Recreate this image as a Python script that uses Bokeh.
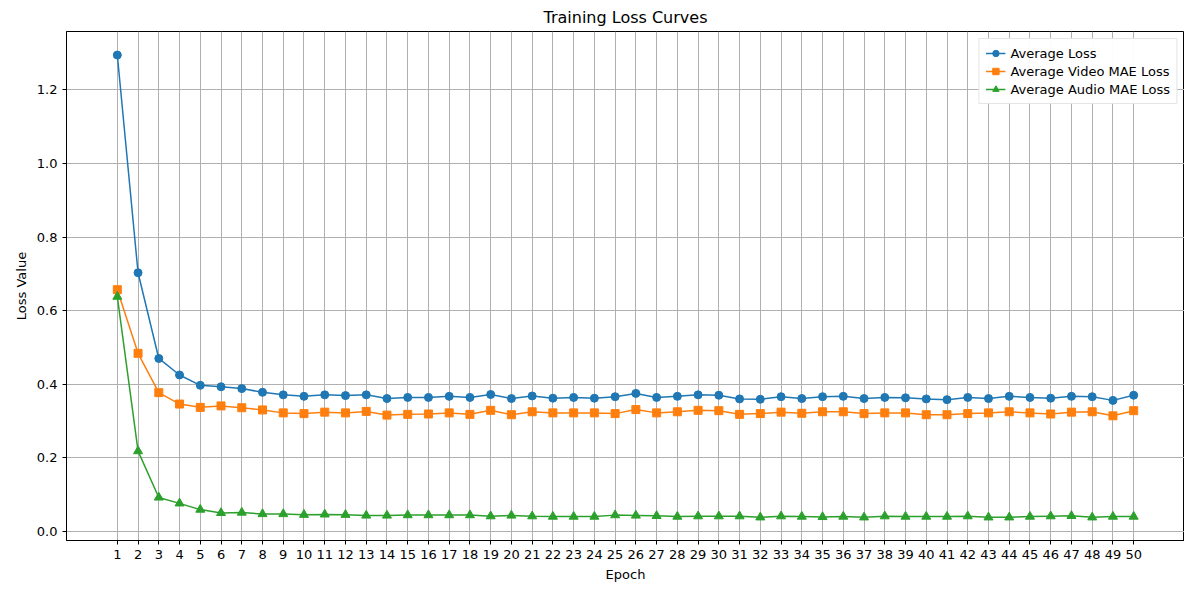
from bokeh.plotting import figure
from bokeh.models import Range1d, FixedTicker, Legend, LegendItem, CustomJSTickFormatter
from bokeh.embed import file_html
from bokeh.resources import INLINE

epochs = list(range(1, 51))
avg_loss = [1.295, 0.703, 0.47, 0.425, 0.397, 0.393, 0.388, 0.378, 0.371, 0.367, 0.371, 0.369, 0.371, 0.361, 0.364, 0.364, 0.367, 0.364, 0.372, 0.361, 0.368, 0.362, 0.364, 0.362, 0.366, 0.375, 0.364, 0.367, 0.371, 0.370, 0.360, 0.359, 0.366, 0.361, 0.366, 0.367, 0.361, 0.364, 0.363, 0.360, 0.358, 0.364, 0.361, 0.367, 0.364, 0.362, 0.367, 0.366, 0.356, 0.370]
video_loss = [0.657, 0.484, 0.377, 0.346, 0.337, 0.341, 0.336, 0.330, 0.322, 0.320, 0.324, 0.322, 0.326, 0.316, 0.318, 0.319, 0.322, 0.318, 0.329, 0.317, 0.325, 0.322, 0.322, 0.322, 0.320, 0.331, 0.322, 0.325, 0.329, 0.328, 0.318, 0.320, 0.324, 0.321, 0.325, 0.325, 0.320, 0.322, 0.322, 0.317, 0.317, 0.320, 0.322, 0.325, 0.322, 0.319, 0.324, 0.325, 0.314, 0.328]
audio_loss = [0.638, 0.218, 0.092, 0.076, 0.059, 0.050, 0.051, 0.047, 0.047, 0.045, 0.046, 0.045, 0.043, 0.043, 0.044, 0.044, 0.044, 0.044, 0.041, 0.043, 0.041, 0.040, 0.040, 0.040, 0.044, 0.043, 0.042, 0.040, 0.041, 0.041, 0.041, 0.038, 0.041, 0.040, 0.039, 0.040, 0.038, 0.041, 0.040, 0.040, 0.040, 0.041, 0.038, 0.038, 0.040, 0.041, 0.042, 0.038, 0.040, 0.040]
y_ticks = [0.0, 0.2, 0.4, 0.6, 0.8, 1.0, 1.2]

p = figure(width=1184, height=584, output_backend="svg", toolbar_location=None,
           x_range=Range1d(-1.45, 52.45), y_range=Range1d(-0.025, 1.359),
           min_border_left=66, min_border_right=0, min_border_top=15, min_border_bottom=43,
           title="Training Loss Curves")
p.title.align = "center"
p.title.text_font = "DejaVu Sans"
p.title.text_font_size = "16px"
p.title.text_font_style = "normal"
p.title.text_color = "black"
p.xaxis.ticker = FixedTicker(ticks=epochs)
p.yaxis.ticker = FixedTicker(ticks=y_ticks)
p.yaxis.formatter = CustomJSTickFormatter(code="return tick.toFixed(1);")
p.xaxis.axis_label = "Epoch"
p.yaxis.axis_label = "Loss Value"
for ax in (p.xaxis[0], p.yaxis[0]):
    ax.axis_label_text_font = "DejaVu Sans"
    ax.axis_label_text_font_style = "normal"
    ax.axis_label_text_font_size = "13px"
    ax.axis_label_text_color = "black"
    ax.major_label_text_font = "DejaVu Sans"
    ax.major_label_text_font_size = "13px"
    ax.major_label_text_color = "black"
    ax.minor_tick_line_color = None
    ax.major_tick_out = 4
    ax.major_tick_in = 0
    ax.axis_line_color = "black"
    ax.major_tick_line_color = "black"
p.xgrid.grid_line_color = "#b0b0b0"
p.ygrid.grid_line_color = "#b0b0b0"
p.outline_line_color = "black"

colors = ["#1f77b4", "#ff7f0e", "#2ca02c"]
l1 = p.line(epochs, avg_loss, color=colors[0], line_width=1.5)
m1 = p.scatter(epochs, avg_loss, color=colors[0], size=8, marker="circle")
l2 = p.line(epochs, video_loss, color=colors[1], line_width=1.5)
m2 = p.scatter(epochs, video_loss, color=colors[1], size=8, marker="square")
l3 = p.line(epochs, audio_loss, color=colors[2], line_width=1.5)
m3 = p.scatter(epochs, audio_loss, color=colors[2], size=9, marker="triangle")

legend = Legend(items=[LegendItem(label="Average Loss", renderers=[l1, m1]),
                       LegendItem(label="Average Video MAE Loss", renderers=[l2, m2]),
                       LegendItem(label="Average Audio MAE Loss", renderers=[l3, m3])],
                location="top_right", label_text_font="DejaVu Sans", label_text_font_size="13px",
                label_text_color="black", border_line_color="#cccccc", spacing=2, padding=6,
                label_height=16, glyph_height=16, margin=7)
p.add_layout(legend)

open("out.html", "w").write(file_html(p, INLINE))
